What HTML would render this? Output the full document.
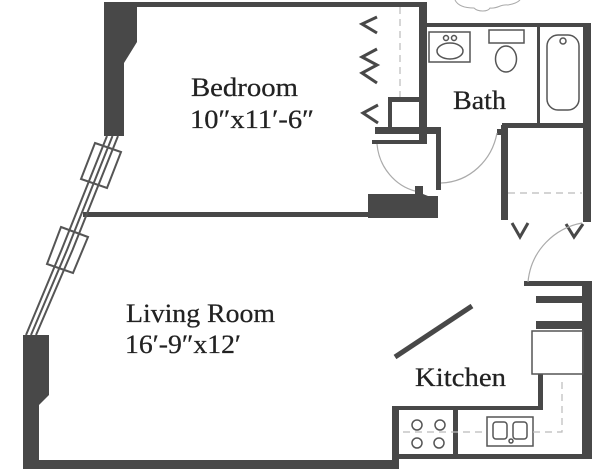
<!DOCTYPE html>
<html>
<head>
<meta charset="utf-8">
<style>
html,body{margin:0;padding:0;background:#fff;width:611px;height:475px;overflow:hidden}
svg{display:block;filter:blur(0.35px)}
text{font-family:"Liberation Serif",serif;fill:#222;font-size:26px;stroke:#222;stroke-width:0.25px}
</style>
</head>
<body>
<svg width="611" height="475" viewBox="0 0 611 475" xmlns="http://www.w3.org/2000/svg">
<rect width="611" height="475" fill="#fff"/>
<!-- cloud -->
<path d="M455 0 C458 6 466 8 474 8 C478 12 488 12 490 8 C498 9 500 4 508 5 C514 4 518 2 520 0" fill="none" stroke="#aaa" stroke-width="1"/>
<g fill="#484848">
<!-- top bedroom wall and left block -->
<path d="M104 2 H427 V7 H137 V42 L124 63 V136 H104 Z"/>
<rect x="419" y="3" width="8" height="141"/>
<!-- bath walls -->
<rect x="427" y="23" width="164" height="4"/>
<rect x="583" y="23" width="8" height="199"/>
<rect x="537" y="27" width="3" height="98"/>
<rect x="502" y="123" width="81" height="5"/>
<rect x="501" y="125" width="7" height="95"/>
<rect x="497" y="129" width="6" height="6"/>
<!-- closet -->
<rect x="388" y="97" width="4" height="32"/>
<rect x="388" y="97" width="31" height="5"/>
<rect x="375" y="127" width="66" height="7"/>
<rect x="436" y="127" width="5" height="63"/>
<rect x="372" y="140" width="55" height="4"/>
<!-- block -->
<path d="M368 194 H415 V186 H423 V194 L428 196 H438 V218 H368 Z"/>
<rect x="83" y="212" width="286" height="5"/>
<!-- kitchen -->
<rect x="524" y="281" width="68" height="5"/>
<rect x="582" y="281" width="10" height="178"/>
<rect x="536" y="296" width="46" height="7"/>
<rect x="536" y="321" width="46" height="8"/>
<rect x="538" y="374" width="5" height="36"/>
<rect x="392" y="406" width="151" height="4"/>
<rect x="392" y="406" width="7" height="62"/>
<rect x="392" y="454" width="200" height="5"/>
<rect x="453" y="410" width="5" height="45"/>
<!-- bottom left -->
<path d="M23 335 H49 V395 L39 405 V460 H399 V469 H23 Z"/>
</g>
<!-- diagonal -->
<line x1="395" y1="357" x2="472" y2="306" stroke="#484848" stroke-width="5"/>
<g fill="none" stroke="#555" stroke-width="2">
<!-- window -->
<polyline points="107,136 61.5,250 26,335"/>
<polyline points="112.5,136 67,250 31,335"/>
<polyline points="118,136 72.5,250 36,335"/>
<polygon points="95,143 121,152 107,188 81,179"/>
<polygon points="61,227 88,237 73,273 47,264"/>
</g>
<g fill="none" stroke="#555" stroke-width="1.5">
<!-- sink -->
<rect x="429" y="32" width="41" height="30"/>
<ellipse cx="450" cy="51" rx="13" ry="8"/>
<circle cx="446" cy="38" r="2.5"/>
<circle cx="454" cy="38" r="2.5"/>
<!-- toilet -->
<rect x="489" y="30" width="35" height="13"/>
<ellipse cx="506" cy="59" rx="10.5" ry="13"/>
<!-- tub -->
<rect x="547" y="35" width="32" height="75" rx="11" ry="11"/>
<circle cx="563" cy="41" r="3"/>
<!-- fridge -->
<rect x="532" y="331" width="51" height="43"/>
<!-- stove -->
<circle cx="417" cy="425" r="5"/>
<circle cx="440" cy="425" r="5"/>
<circle cx="417" cy="443" r="5"/>
<circle cx="439" cy="443" r="5"/>
<!-- kitchen sink -->
<rect x="487" y="417" width="46" height="29"/>
<rect x="493" y="422" width="14" height="17" rx="3"/>
<rect x="513" y="422" width="14" height="17" rx="3"/>
<circle cx="511" cy="441" r="2"/>
</g>
<!-- chevrons -->
<g fill="none" stroke="#484848" stroke-width="3">
<polyline points="377,17 362,24 377,33"/>
<polyline points="377,49 362,57 377,65 362,73 377,83"/>
<polyline points="378,105 363,113 378,123"/>
<polyline points="512,223 520,237 528,223"/>
<polyline points="566,224 574,237 583,224"/>
</g>
<!-- door arcs -->
<g fill="none" stroke="#aaa" stroke-width="1.2">
<path d="M377 144 C379 168 396 186 415 191"/>
<path d="M441 183 C470 182 492 160 497 133"/>
<path d="M528 282 C531 250 555 228 582 223"/>
</g>
<!-- dashed -->
<g fill="none" stroke="#bbb" stroke-width="1.2" stroke-dasharray="7 5">
<line x1="400" y1="7" x2="400" y2="97"/>
<line x1="508" y1="193" x2="582" y2="193"/>
<path d="M403 432 H487 M533 432 H562 V379"/>
</g>
<!-- labels -->
<text x="191" y="96" textLength="107" lengthAdjust="spacingAndGlyphs">Bedroom</text>
<text x="190" y="128" textLength="124" lengthAdjust="spacingAndGlyphs">10″x11′-6″</text>
<text x="453" y="109" textLength="53" lengthAdjust="spacingAndGlyphs">Bath</text>
<text x="126" y="322" textLength="149" lengthAdjust="spacingAndGlyphs">Living Room</text>
<text x="125" y="353" textLength="116" lengthAdjust="spacingAndGlyphs">16′-9″x12′</text>
<text x="415" y="386" textLength="91" lengthAdjust="spacingAndGlyphs">Kitchen</text>
</svg>
</body>
</html>
